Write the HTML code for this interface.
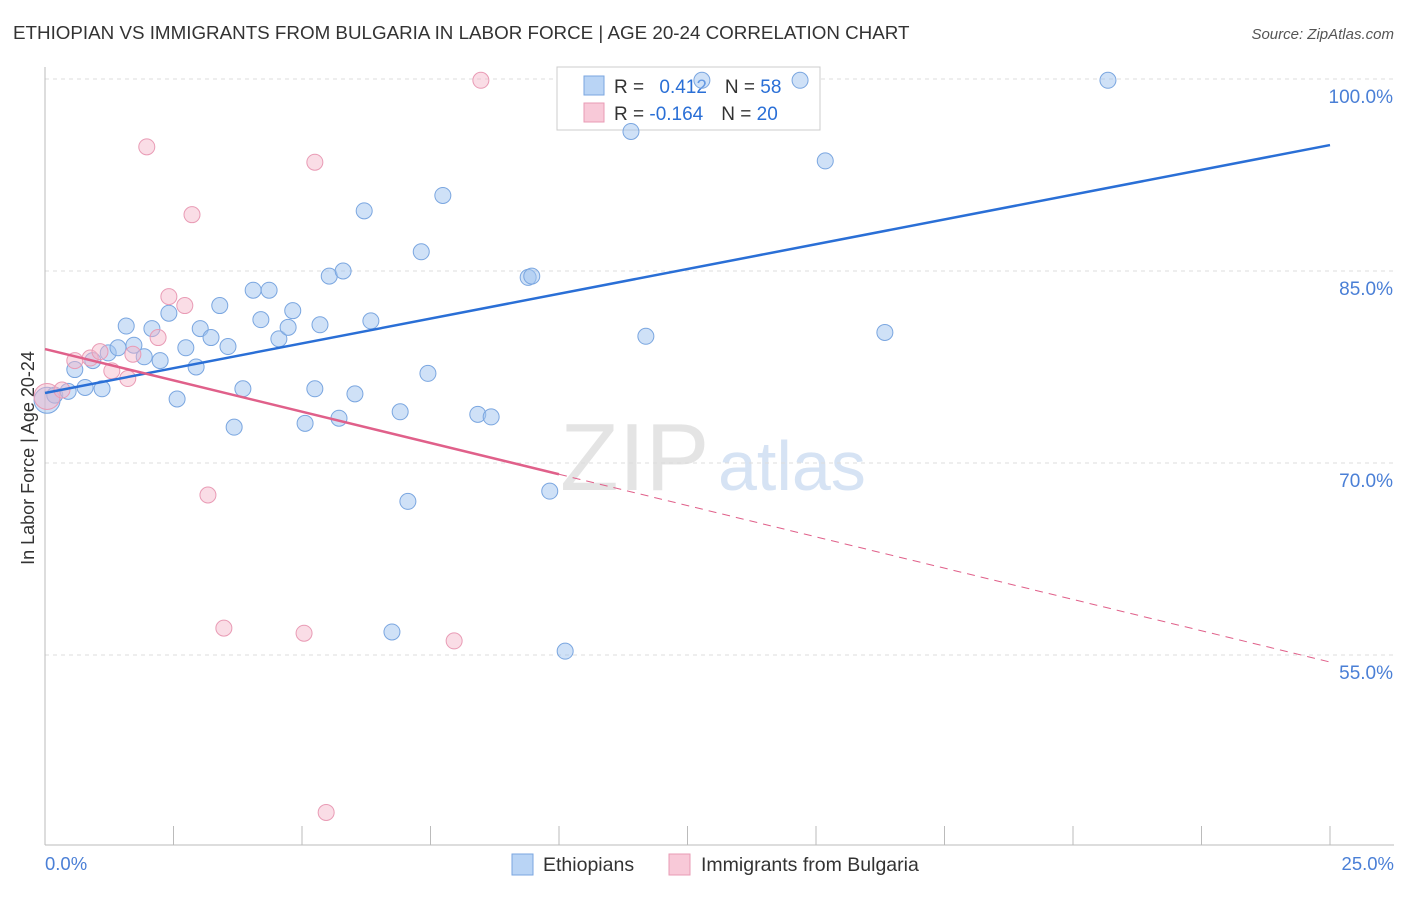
<!DOCTYPE html>
<html><head><meta charset="utf-8"><style>
body{margin:0;background:#fff;font-family:"Liberation Sans",sans-serif}
svg text{font-family:"Liberation Sans",sans-serif}
</style></head><body>
<svg id="c" width="1406" height="892" xmlns="http://www.w3.org/2000/svg">
<text x="13" y="39" font-size="18.8" fill="#333">ETHIOPIAN VS IMMIGRANTS FROM BULGARIA IN LABOR FORCE | AGE 20-24 CORRELATION CHART</text>
<text x="1394" y="39" font-size="15" fill="#555" font-style="italic" text-anchor="end">Source: ZipAtlas.com</text>
<text x="560" y="490" font-size="96" fill="#e4e4e4" font-family="Liberation Serif">ZIP</text>
<text x="718" y="490" font-size="70" fill="#d6e3f4">atlas</text>
<text transform="translate(34,458) rotate(-90)" font-size="18" fill="#333" text-anchor="middle">In Labor Force | Age 20-24</text>
<g id="grid"></g>
<g>
<rect x="557" y="67" width="263" height="63" fill="#fff" stroke="#ccc"/>
<rect x="584" y="76" width="20" height="19" fill="#b9d4f5" stroke="#7aa6e0"/>
<rect x="584" y="103" width="20" height="19" fill="#f8c9d8" stroke="#e99bb5"/>
<text x="614" y="93" font-size="19" fill="#333">R = <tspan fill="#2a6fd6" dx="10">0.412</tspan><tspan fill="#333" dx="18">N = </tspan><tspan fill="#2a6fd6">58</tspan></text>
<text x="614" y="120" font-size="19" fill="#333">R = <tspan fill="#2a6fd6">-0.164</tspan><tspan fill="#333" dx="18">N = </tspan><tspan fill="#2a6fd6">20</tspan></text>
</g>
<g id="marks"></g><g id="lines"></g>
<g>
<rect x="512" y="854" width="21" height="21" fill="#b9d4f5" stroke="#7aa6e0"/>
<text x="543" y="871" font-size="19.5" fill="#333">Ethiopians</text>
<rect x="669" y="854" width="21" height="21" fill="#f8c9d8" stroke="#e99bb5"/>
<text x="701" y="871" font-size="19.5" fill="#333">Immigrants from Bulgaria</text>
</g>
</svg>
<script>
const yTicks=[100,85,70,55];
const yTickLabels=["100.0%","85.0%","70.0%","55.0%"];
const xTickLabels=["0.0%","25.0%"];
const blueX=[.04,.19,.45,.58,.78,.93,1.11,1.23,1.42,1.58,1.73,1.93,2.08,2.24,2.41,2.57,2.74,2.94,3.02,3.23,3.40,3.56,3.68,3.85,4.05,4.20,4.36,4.55,4.73,4.82,5.06,5.25,5.35,5.53,5.72,5.80,6.03,6.21,6.34,6.75,6.91,7.06,7.32,7.45,7.74,8.42,8.68,9.40,9.47,9.82,10.12,11.40,11.69,12.78,14.69,15.18,16.34,20.68];
const blueY=[74.9,75.3,75.6,77.3,75.9,78.0,75.8,78.6,79.0,80.7,79.2,78.3,80.5,78.0,81.7,75.0,79.0,77.5,80.5,79.8,82.3,79.1,72.8,75.8,83.5,81.2,83.5,79.7,80.6,81.9,73.1,75.8,80.8,84.6,73.5,85.0,75.4,89.7,81.1,56.8,74.0,67.0,86.5,77.0,90.9,73.8,73.6,84.5,84.6,67.8,55.3,95.9,79.9,99.9,99.9,93.6,80.2,99.9];
const pinkX=[.04,.33,.58,.88,1.07,1.30,1.61,1.71,1.98,2.20,2.41,2.72,2.86,3.17,3.48,5.04,5.25,5.47,7.96,8.48];
const pinkY=[75.2,75.7,78.0,78.2,78.7,77.2,76.6,78.5,94.7,79.8,83.0,82.3,89.4,67.5,57.1,56.7,93.5,42.7,56.1,99.9];
const blueFit=[75.47,94.84];
const pinkFit=[78.9,54.45];
const pinkSolidEnd=10;
const NS="http://www.w3.org/2000/svg";
const sx=v=>45+v*51.4, sy=v=>79+(100-v)*12.8;
function mk(t,a,p){const e=document.createElementNS(NS,t);for(const k in a)e.setAttribute(k,a[k]);p.appendChild(e);return e;}
const grid=document.getElementById('grid'),marks=document.getElementById('marks'),lines=document.getElementById('lines');
yTicks.forEach((t,i)=>{
 const l=mk('line',{x1:45,x2:1394,y1:sy(t),y2:sy(t),stroke:'#ddd','stroke-dasharray':'4,4'},grid);
 
 
 const tx=mk('text',{x:1393,y:sy(t)+24,'font-size':19,fill:'#4a7fd6','text-anchor':'end'},grid);
 tx.textContent=yTickLabels[i];
 
 
});
const ax=mk('line',{x1:45,x2:45,y1:67,y2:845,stroke:'#bbb'},grid);


const bx=mk('line',{x1:45,x2:1394,y1:845,y2:845,stroke:'#bbb'},grid);


for(let i=0;i<=10;i++){const tk=mk('line',{x1:sx(i*2.5),x2:sx(i*2.5),y1:826,y2:845,stroke:'#bbb'},grid);
 
 }
[[0,"start",45],[25,"end",1394]].forEach((d,i)=>{const t=mk('text',{x:d[2],y:870,'font-size':18.5,fill:'#4a7fd6','text-anchor':d[1]},grid);t.textContent=xTickLabels[i];
 
 });
blueX.forEach((x,i)=>{const c=mk('circle',{cx:sx(x),cy:sy(blueY[i]),r:i==0?13:8,fill:'rgba(160,196,240,0.5)',stroke:'#7aa6e0','stroke-width':1},marks);
 
 });
pinkX.forEach((x,i)=>{const c=mk('circle',{cx:sx(x),cy:sy(pinkY[i]),r:i==0?13:8,fill:'rgba(245,180,200,0.45)',stroke:'#e99bb5','stroke-width':1},marks);
 
 });
const bl=mk('line',{x1:sx(0),y1:sy(blueFit[0]),x2:sx(25),y2:sy(blueFit[1]),stroke:'#2a6fd6','stroke-width':2.5},lines);


const pe=pinkFit[0]+(pinkFit[1]-pinkFit[0])*pinkSolidEnd/25;
const pl=mk('line',{x1:sx(0),y1:sy(pinkFit[0]),x2:sx(pinkSolidEnd),y2:sy(pe),stroke:'#e0608a','stroke-width':2.5},lines);


const pd=mk('line',{x1:sx(pinkSolidEnd),y1:sy(pe),x2:sx(25),y2:sy(pinkFit[1]),stroke:'#e0608a','stroke-width':1,'stroke-dasharray':'8,6'},lines);


</script>
</body></html>
